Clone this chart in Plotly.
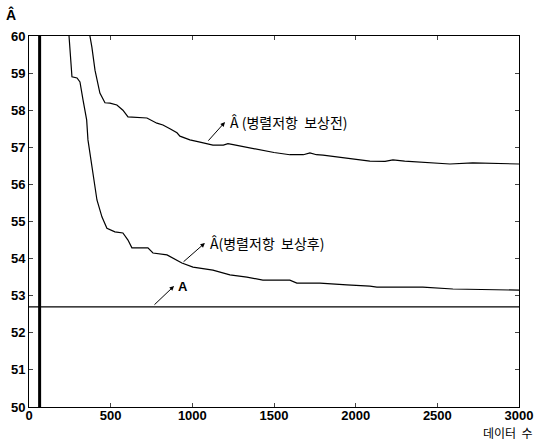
import plotly.graph_objects as go

# Â (before parallel-resistance compensation)
before_x = [373, 385, 404, 434, 465, 496, 538, 575, 606, 722, 783, 820, 863, 906, 924, 985,
            1047, 1089, 1126, 1190, 1218, 1250, 1334, 1414, 1500, 1597, 1680, 1720, 1760, 1800,
            1946, 2087, 2180, 2228, 2300, 2411, 2577, 2717, 2850, 3000]
before_y = [60.0, 59.7, 59.08, 58.46, 58.2, 58.19, 58.14, 58.0, 57.82, 57.79, 57.65, 57.6, 57.5,
            57.39, 57.3, 57.2, 57.14, 57.1, 57.06, 57.06, 57.1, 57.07, 57.0, 56.93, 56.86, 56.8,
            56.8, 56.85, 56.8, 56.79, 56.71, 56.63, 56.62, 56.66, 56.63, 56.6, 56.55, 56.58,
            56.56, 56.55]

# Â (after compensation)
after_x = [245, 255, 263, 294, 312, 331, 353, 361, 373, 392, 416, 447, 477, 526, 575, 606, 630,
           728, 759, 845, 936, 1004, 1126, 1230, 1334, 1432, 1597, 1640, 1781, 1946, 2087, 2130,
           2411, 2595, 3000]
after_y = [60.0, 59.4, 58.9, 58.87, 58.76, 58.27, 57.74, 57.2, 56.85, 56.2, 55.58, 55.12, 54.82,
           54.72, 54.69, 54.5, 54.29, 54.29, 54.15, 54.1, 53.88, 53.77, 53.69, 53.56, 53.5, 53.42,
           53.42, 53.34, 53.34, 53.29, 53.26, 53.23, 53.23, 53.18, 53.15]

# true A
true_x = [0, 3000]
true_y = [52.7, 52.7]

# initial transient (vertical)
init_x = [65, 65]
init_y = [49, 61]

x_ticks = [0, 500, 1000, 1500, 2000, 2500, 3000]
y_ticks = [50, 51, 52, 53, 54, 55, 56, 57, 58, 59, 60]

fig = go.Figure()
line = dict(color="black", width=1.2)
fig.add_trace(go.Scatter(x=before_x, y=before_y, mode="lines", line=line))
fig.add_trace(go.Scatter(x=after_x, y=after_y, mode="lines", line=line))
fig.add_trace(go.Scatter(x=true_x, y=true_y, mode="lines", line=line))
fig.add_trace(go.Scatter(x=init_x, y=init_y, mode="lines", line=dict(color="black", width=3)))

kfont = dict(family="Noto Sans CJK KR", size=14, color="black")

def arrow(hx, hy, tx, ty):
    fig.add_annotation(x=hx, y=hy, ax=tx, ay=ty, xref="x", yref="y", axref="x", ayref="y",
                       text="", showarrow=True, arrowhead=2, arrowsize=0.9, arrowwidth=1,
                       arrowcolor="black")

arrow(1200, 57.68, 1090, 57.14)
fig.add_annotation(x=1218, y=57.68, xref="x", yref="y", text="Â (병렬저항  보상전)",
                   showarrow=False, xanchor="left", yanchor="middle", font=kfont)
arrow(1077, 54.42, 937, 53.88)
fig.add_annotation(x=1096, y=54.42, xref="x", yref="y", text="Â(병렬저항  보상후)",
                   showarrow=False, xanchor="left", yanchor="middle", font=kfont)
arrow(888, 53.26, 759, 52.72)
fig.add_annotation(x=900, y=53.26, xref="x", yref="y", text="<b>A</b>",
                   showarrow=False, xanchor="left", yanchor="middle",
                   font=dict(family="Liberation Sans", size=13, color="black"))

fig.add_annotation(x=-0.037, y=1.059, xref="paper", yref="paper", text="<b>Â</b>",
                   showarrow=False, xanchor="center", yanchor="middle",
                   font=dict(family="Liberation Sans", size=14, color="black"))
fig.add_annotation(x=1.033, y=-0.068, xref="paper", yref="paper", text="데이터  수",
                   showarrow=False, xanchor="right", yanchor="middle",
                   font=dict(family="Noto Sans CJK KR", size=12, color="black"))

fig.update_layout(
    width=536, height=441,
    margin=dict(l=29, r=17, t=36, b=34),
    paper_bgcolor="white", plot_bgcolor="white",
    showlegend=False,
    font=dict(family="Liberation Sans", size=13, color="black"),
)
tickfont = dict(family="Liberation Sans", size=13, color="black", weight="bold")
fig.update_xaxes(range=[0, 3000], tickvals=x_ticks, ticks="inside", ticklen=4,
                 showline=True, linecolor="black", linewidth=1, mirror="ticks",
                 showgrid=False, zeroline=False, automargin=False, ticklabelstandoff=-4,
                 tickfont=tickfont)
fig.update_yaxes(range=[50, 60], tickvals=y_ticks, ticks="inside", ticklen=4,
                 showline=True, linecolor="black", linewidth=1, mirror="ticks",
                 showgrid=False, zeroline=False, automargin=False, tickfont=tickfont)

fig.write_html("out.html", config={"displayModeBar": False},
               post_script="document.body.style.margin='0';")
